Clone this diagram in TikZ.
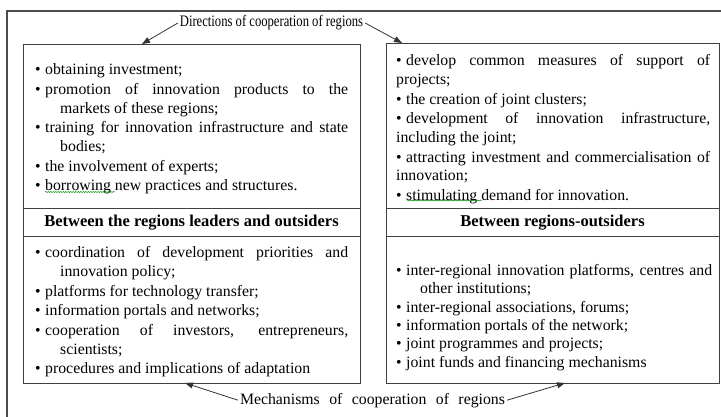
\documentclass[tikz,border=0pt]{standalone}
\usepackage{fontspec}
\setmainfont{Liberation Serif}
\usetikzlibrary{arrows.meta,decorations.pathmorphing}
\newcommand{\bitem}[2][25pt]{\par\noindent\hangindent=#1\hangafter=1\makebox[10pt][l]{•}#2}
\newcommand{\blocksetup}[1]{\setlength{\parskip}{#1}\tolerance=10000 \hbadness=10000 \hyphenpenalty=10000 \emergencystretch=20pt }
\begin{document}
\begin{tikzpicture}[x=1pt,y=-1pt,
  frame/.style={draw=black!70, line width=1.4pt},
  panel/.style={draw=black!75, line width=0.9pt, rectangle, inner sep=0pt, anchor=north west},
  body/.style={anchor=base west, inner sep=0pt, font=\fontsize{15.8}{18.5}\selectfont},
  head/.style={font=\fontsize{16.5}{19}\selectfont\bfseries, inner sep=0pt, anchor=base},
  label/.style={font=\fontsize{16}{19}\selectfont, inner sep=2pt, anchor=base},
  conn/.style={draw=black!80, line width=0.8pt, -{Triangle[length=8pt,width=6pt]}},
  squiggle/.style={draw=green!55!black, line width=0.5pt, decorate, decoration={snake, amplitude=0.6pt, segment length=2.5pt}}
]
\useasboundingbox (0,0) rectangle (721,417);
\clip (0,0) rectangle (721,417);
\draw[frame] (7,440) -- (7,11) -- (740,11);

% left column
\node[panel, minimum width=337pt, minimum height=164pt] (lt) at (23,44) {};
\node[panel, minimum width=337pt, minimum height=28pt] (lh) at (23,208) {};
\node[panel, minimum width=337pt, minimum height=147pt] (lb) at (23,236) {};
% right column
\node[panel, minimum width=333pt, minimum height=165pt] (rt) at (386,43) {};
\node[panel, minimum width=333pt, minimum height=28pt] (rh) at (386,208) {};
\node[panel, minimum width=333pt, minimum height=147pt] (rb) at (386,236) {};

\node[body] (ltx) at (35,75) {\parbox[t]{313pt}{\blocksetup{1.2pt}%
\bitem{obtaining investment;}
\bitem{promotion of innovation products to the\linebreak markets of these regions;}
\bitem{training for innovation infrastructure and state\linebreak bodies;}
\bitem{the involvement of experts;}
\bitem{borrowing new practices and structures.}}};

\node[body] (lbx) at (35,258) {\parbox[t]{313pt}{\blocksetup{1.2pt}%
\bitem{coordination of development priorities and\linebreak innovation policy;}
\bitem{platforms for technology transfer;}
\bitem{information portals and networks;}
\bitem{cooperation of investors, entrepreneurs,\linebreak scientists;}
\bitem{procedures and implications of adaptation}}};

\node[body] (rtx) at (396,66) {\parbox[t]{314pt}{\blocksetup{1.2pt}%
\bitem[0pt]{develop common measures of support of\linebreak projects;}
\bitem[0pt]{the creation of joint clusters;}
\bitem[0pt]{development of innovation infrastructure,\linebreak including the joint;}
\bitem[0pt]{attracting investment and commercialisation of\linebreak innovation;}
\bitem[0pt]{stimulating demand for innovation.}}};

\node[body, font=\fontsize{15.8}{17.5}\selectfont] (rbx) at (396,276) {\parbox[t]{316pt}{\blocksetup{1pt}%
\bitem[24pt]{inter-regional innovation platforms, centres and\linebreak other institutions;}
\bitem[24pt]{inter-regional associations, forums;}
\bitem[24pt]{information portals of the network;}
\bitem[24pt]{joint programmes and projects;}
\bitem[24pt]{joint funds and financing mechanisms}}};

\node[head] (lht) at (191.5,227) {Between the regions leaders and outsiders};
\node[head] (rht) at (552.5,227) {Between regions-outsiders};

% spell-check marks
\draw[squiggle] (45,192) -- (115,192);
\draw[squiggle] (407,200.5) -- (482,200.5);

% labels and arrows
\node[label] (title) at (271.5,27) {\scalebox{0.79}[1]{Directions of cooperation of regions}};
\node[label, font=\fontsize{15.8}{19}\selectfont] (mech) at (372.5,404) {\makebox[265pt][s]{Mechanisms of cooperation of regions}};
\coordinate (tA) at (142,44);
\coordinate (tB) at (402,43);
\coordinate (tC) at (185,383);
\coordinate (tD) at (565,383);
\draw[conn] (title.west) -- (tA);
\draw[conn] (title.east) -- (tB);
\draw[conn] (mech.west) -- (tC);
\draw[conn] (mech.east) -- (tD);
\end{tikzpicture}
\end{document}
